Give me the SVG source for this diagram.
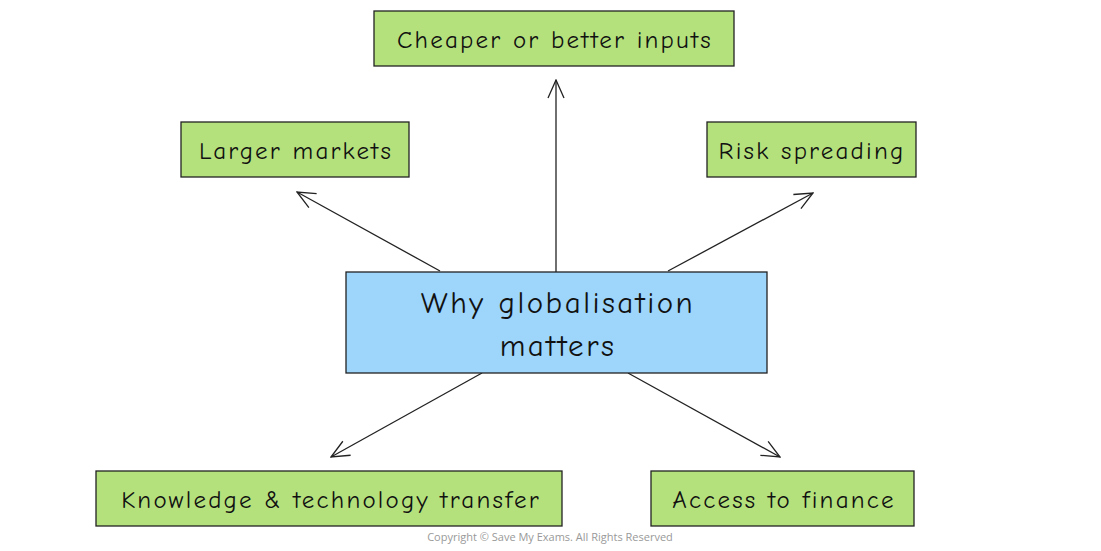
<svg xmlns="http://www.w3.org/2000/svg" width="1101" height="551" viewBox="0 0 1101 551">
<style>
.g{fill:#b5e17d;stroke:#222;stroke-width:1.3}
.b{fill:#9dd5fb;stroke:#222;stroke-width:1.3}
.t{font-family:"Comic Neue","DejaVu Sans","Liberation Sans",sans-serif;font-size:25px;fill:#111;text-anchor:middle;dominant-baseline:central;letter-spacing:2.2px}
.c{font-size:31px;letter-spacing:2.5px}
.l{stroke:#222;stroke-width:1.3;fill:none;marker-end:url(#a)}
</style>
<defs><marker id="a" viewBox="0 0 20 20" refX="19" refY="10" markerWidth="20" markerHeight="20" markerUnits="userSpaceOnUse" orient="auto"><path d="M1,2 L19,10 L1,18" fill="none" stroke="#222" stroke-width="1.3"/></marker></defs>
<rect width="1101" height="551" fill="#fff"/>
<g id="connectors">
<line class="l" x1="556" y1="272" x2="556" y2="80"/>
<line class="l" x1="440" y1="271" x2="297" y2="192"/>
<line class="l" x1="668" y1="271" x2="813" y2="193"/>
<line class="l" x1="482" y1="373" x2="331" y2="457"/>
<line class="l" x1="628" y1="373" x2="780" y2="457"/>
</g>
<g id="center"><rect class="b" x="346" y="272" width="421" height="101"/><text class="t c" x="558" y="303">Why globalisation</text><text class="t c" x="558" y="346">matters</text></g>
<g id="inputs"><rect class="g" x="374" y="11" width="360" height="55"/><text class="t" x="555" y="39">Cheaper or better inputs</text></g>
<g id="markets"><rect class="g" x="181" y="122" width="228" height="55"/><text class="t" x="296" y="150">Larger markets</text></g>
<g id="risk"><rect class="g" x="707" y="122" width="209" height="55"/><text class="t" x="812" y="150">Risk spreading</text></g>
<g id="knowledge"><rect class="g" x="96" y="471" width="466" height="55"/><text class="t" x="331" y="499">Knowledge &amp; technology transfer</text></g>
<g id="finance"><rect class="g" x="651" y="471" width="263" height="55"/><text class="t" x="784" y="499">Access to finance</text></g>
<text x="550" y="541" font-family="Open Sans,sans-serif" font-size="11" fill="#999" text-anchor="middle">Copyright © Save My Exams. All Rights Reserved</text>
</svg>
